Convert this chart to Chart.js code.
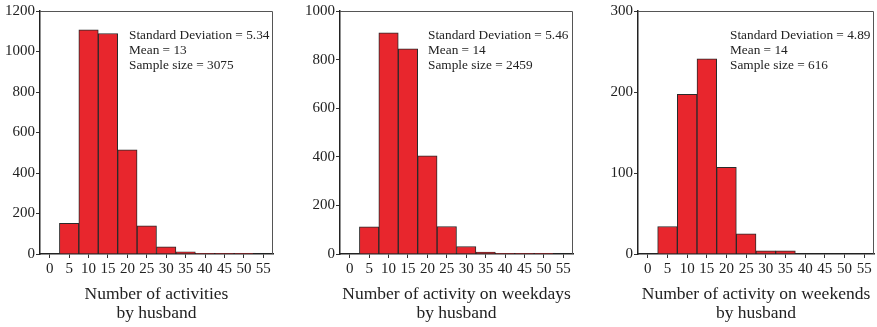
<!DOCTYPE html>
<html>
<head>
<meta charset="utf-8">
<script src="https://cdn.jsdelivr.net/npm/chart.js@4"></script>
<style>
  html, body { margin: 0; padding: 0; background: #fff; }
  #wrap { position: relative; width: 877px; height: 327px; }
  .panel { position: absolute; top: 0; height: 327px; }
</style>
</head>
<body>
<div id="wrap">
  <div class="panel" style="left:0px;width:290px"><canvas id="c1"></canvas></div>
  <div class="panel" style="left:300px;width:290px"><canvas id="c2"></canvas></div>
  <div class="panel" style="left:598px;width:279px"><canvas id="c3"></canvas></div>
</div>
<script>
// bins (number of activities)
const bins = ['0', '5', '10', '15', '20', '25', '30', '35', '40', '45', '50', '55'];

// counts
const allDays = [0, 152, 1107, 1089, 514, 139, 36, 11, 3, 2, 2, 0];
const weekdays = [0, 112, 910, 844, 404, 113, 31, 8, 3, 3, 3, 0];
const weekends = [0, 34, 197, 241, 107, 25, 4, 4, 0, 0, 0, 0];

// stats text
const statsAll = ['Standard Deviation = 5.34', 'Mean = 13', 'Sample size = 3075'];
const statsWeekdays = ['Standard Deviation = 5.46', 'Mean = 14', 'Sample size = 2459'];
const statsWeekends = ['Standard Deviation = 4.89', 'Mean = 14', 'Sample size = 616'];

const SERIF = "'Liberation Serif', 'DejaVu Serif', serif";

// box round the plot + the stats lines
const frameAndStats = {
    id: 'frameAndStats',
    afterDraw(chart, args, opts) {
        const { ctx, chartArea: a } = chart;
        ctx.save();
        // top and right edges (lighter)
        ctx.strokeStyle = '#555';
        ctx.lineWidth = 1;
        ctx.beginPath();
        ctx.moveTo(a.left, a.top + 0.5);
        ctx.lineTo(a.right - 0.5, a.top + 0.5);
        ctx.lineTo(a.right - 0.5, a.bottom);
        ctx.stroke();

        ctx.fillStyle = '#222';
        ctx.font = '13.3px ' + SERIF;
        ctx.textBaseline = 'middle';
        opts.lines.forEach((t, i) => {
            ctx.fillText(t, a.left + opts.dx, opts.y + i * 15);
        });
        ctx.restore();
    }
};

function makeChart(id, values, yMax, yStep, title, stats, dx, padRight) {
    return new Chart(document.getElementById(id), {
        type: 'bar',
        data: {
            labels: bins,
            datasets: [{
                data: values,
                backgroundColor: '#e8262d',
                borderColor: '#2a2a2a',
                borderWidth: 1,
                borderSkipped: 'bottom',
                barPercentage: 1,
                categoryPercentage: 1
            }]
        },
        options: {
            responsive: false,
            animation: false,
            layout: { padding: { top: 11, right: padRight, bottom: 0, left: 0 } },
            plugins: {
                legend: { display: false },
                tooltip: { enabled: false },
                frameAndStats: { lines: stats, dx: dx, y: 36 }
            },
            scales: {
                x: {
                    offset: true,
                    grid: {
                        display: true,
                        drawOnChartArea: false,
                        offset: false,
                        tickLength: 4,
                        color: '#333'
                    },
                    border: { display: true, color: '#222', width: 1.5 },
                    ticks: {
                        color: '#222',
                        font: { family: SERIF, size: 15 },
                        padding: 2,
                        maxRotation: 0,
                        autoSkip: false
                    },
                    title: {
                        display: true,
                        text: title,
                        color: '#222',
                        font: { family: SERIF, size: 17.5, lineHeight: 1.1 },
                        padding: { top: 2, bottom: 4 }
                    },
                    afterFit(scale) { scale.height = 73; }
                },
                y: {
                    min: 0,
                    max: yMax,
                    grid: {
                        display: true,
                        drawOnChartArea: false,
                        tickLength: 4,
                        color: '#333'
                    },
                    border: { display: true, color: '#222', width: 1.5 },
                    ticks: {
                        stepSize: yStep,
                        color: '#222',
                        font: { family: SERIF, size: 15 },
                        padding: 1,
                        callback: v => String(v)
                    },
                    afterFit(scale) { scale.width = 40; }
                }
            }
        },
        plugins: [frameAndStats]
    });
}

function sizeCanvas(id, w, h) {
    const c = document.getElementById(id);
    c.width = w;
    c.height = h;
    c.style.width = w + 'px';
    c.style.height = h + 'px';
}

sizeCanvas('c1', 290, 327);
sizeCanvas('c2', 290, 327);
sizeCanvas('c3', 279, 327);

makeChart('c1', allDays, 1200, 200, ['Number of activities', 'by husband'], statsAll, 89, 17);
makeChart('c2', weekdays, 1000, 200, ['Number of activity on weekdays', 'by husband'], statsWeekdays, 88, 17);
makeChart('c3', weekends, 300, 100, ['Number of activity on weekends', 'by husband'], statsWeekends, 92, 3);
</script>
</body>
</html>
